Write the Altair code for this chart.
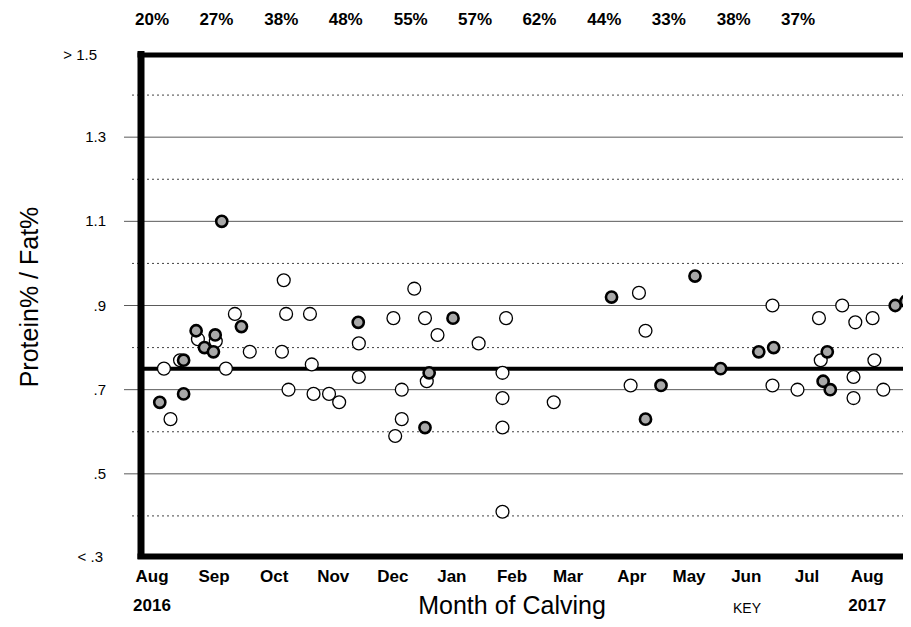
import altair as alt
import pandas as pd

# ---- data (x in months since Aug 2016, y = Protein% / Fat%) ----
open_month = [0.20, 0.31, 0.47, 0.77, 1.07, 1.24, 1.39, 1.64, 2.18, 2.21, 2.25, 2.29,
              2.65, 2.68, 2.71, 2.97, 3.14, 3.47, 3.47, 4.05, 4.08, 4.19, 4.19, 4.40,
              4.58, 4.61, 4.79, 5.48, 5.88, 5.88, 5.88, 5.88, 5.94, 6.74, 8.03, 8.17,
              8.28, 10.41, 10.41, 10.83, 11.19, 11.22, 11.58, 11.77, 11.77, 11.80,
              12.09, 12.12, 12.27]
open_ratio = [0.75, 0.63, 0.77, 0.82, 0.815, 0.75, 0.88, 0.79, 0.79, 0.96, 0.88, 0.70,
              0.88, 0.76, 0.69, 0.69, 0.67, 0.81, 0.73, 0.87, 0.59, 0.70, 0.63, 0.94,
              0.87, 0.72, 0.83, 0.81, 0.74, 0.68, 0.61, 0.41, 0.87, 0.67, 0.71, 0.93,
              0.84, 0.90, 0.71, 0.70, 0.87, 0.77, 0.90, 0.73, 0.68, 0.86,
              0.87, 0.77, 0.70]

grey_month = [0.13, 0.53, 0.53, 0.74, 0.88, 1.03, 1.06, 1.17, 1.50, 3.46, 4.58, 4.65,
              5.05, 7.71, 8.28, 8.54, 9.11, 9.54, 10.18, 10.43, 11.26, 11.33, 11.38,
              12.47, 12.65]
grey_ratio = [0.67, 0.77, 0.69, 0.84, 0.80, 0.79, 0.83, 1.10, 0.85, 0.86, 0.61, 0.74,
              0.87, 0.92, 0.63, 0.71, 0.97, 0.75, 0.79, 0.80, 0.72, 0.79, 0.70,
              0.90, 0.91]

mean_ratio = [0.75]

month_labels = ["Aug", "Sep", "Oct", "Nov", "Dec", "Jan", "Feb", "Mar", "Apr", "May",
                "Jun", "Jul", "Aug"]
month_pos = [0, 1.04, 2.05, 3.04, 4.04, 5.03, 6.04, 6.98, 8.05, 9.01, 9.97, 10.99, 12.0]

year_labels = ["2016", "2017"]
year_pos = [0, 12.0]

pct_labels = ["20%", "27%", "38%", "48%", "55%", "57%", "62%", "44%", "33%", "38%", "37%"]
pct_pos = [0, 1.08, 2.17, 3.25, 4.34, 5.42, 6.50, 7.59, 8.67, 9.76, 10.84]

major_grid = [1.3, 1.1, 0.9, 0.7, 0.5]
minor_grid = [1.4, 1.2, 1.0, 0.8, 0.6, 0.4]
y_tick_labels = ["1.3", "1.1", ".9", ".7", ".5"]

# ---- layout ----
W, H = 762, 505
FONT = "Liberation Sans"
xs = alt.Scale(domain=[-0.185, -0.185 + W / 59.6], nice=False, zero=False)
ys = alt.Scale(domain=[0.3, 1.5], nice=False, zero=False)

open_df = pd.DataFrame({"m": open_month, "r": open_ratio})
grey_df = pd.DataFrame({"m": grey_month, "r": grey_ratio})
major_df = pd.DataFrame({"v": major_grid, "lab": y_tick_labels})
minor_df = pd.DataFrame({"v": minor_grid})
mean_df = pd.DataFrame({"v": mean_ratio})
month_df = pd.DataFrame({"p": month_pos, "lab": month_labels})
year_df = pd.DataFrame({"p": year_pos, "lab": year_labels})
pct_df = pd.DataFrame({"p": pct_pos, "lab": pct_labels})
one = alt.Data(values=[{}])

major = alt.Chart(major_df).mark_rule(color="#5a5a5a", strokeWidth=1).encode(
    y=alt.Y("v:Q", scale=ys, axis=None), x=alt.value(-17), x2=alt.value(W))
minor = alt.Chart(minor_df).mark_rule(color="#444444", strokeWidth=1, strokeDash=[2, 3]).encode(
    y=alt.Y("v:Q", scale=ys, axis=None), x=alt.value(-9), x2=alt.value(W))
ylabels = alt.Chart(major_df).mark_text(font=FONT, fontSize=15, align="right", baseline="middle").encode(
    y=alt.Y("v:Q", scale=ys, axis=None), x=alt.value(-35), text="lab:N")
ytop = alt.Chart(one).mark_text(font=FONT, fontSize=15, align="right", baseline="middle",
                                text="> 1.5").encode(x=alt.value(-44), y=alt.value(2))
ybot = alt.Chart(one).mark_text(font=FONT, fontSize=15, align="right", baseline="middle",
                                text="<  .3").encode(x=alt.value(-38), y=alt.value(H - 1))
mean = alt.Chart(mean_df).mark_rule(color="black", strokeWidth=4).encode(
    y=alt.Y("v:Q", scale=ys, axis=None), x=alt.value(0), x2=alt.value(W))

pts_open = alt.Chart(open_df).mark_point(shape="circle", filled=False, fill="white", fillOpacity=1,
                                         stroke="black", strokeWidth=1.3, size=165, opacity=1).encode(
    x=alt.X("m:Q", scale=xs, axis=None), y=alt.Y("r:Q", scale=ys, axis=None))
pts_grey = alt.Chart(grey_df).mark_point(shape="circle", filled=False, fill="#a8a8a8", fillOpacity=1,
                                         stroke="black", strokeWidth=2.6, size=125, opacity=1).encode(
    x=alt.X("m:Q", scale=xs, axis=None), y=alt.Y("r:Q", scale=ys, axis=None))

left_b = alt.Chart(one).mark_rule(color="black", strokeWidth=7).encode(
    x=alt.value(0), y=alt.value(-2), y2=alt.value(H + 1))
top_b = alt.Chart(one).mark_rule(color="black", strokeWidth=5).encode(
    y=alt.value(2), x=alt.value(-3.5), x2=alt.value(W))
bot_b = alt.Chart(one).mark_rule(color="black", strokeWidth=6).encode(
    y=alt.value(H - 1.5), x=alt.value(-3.5), x2=alt.value(W))

months = alt.Chart(month_df).mark_text(font=FONT, fontSize=17, fontWeight="bold", baseline="middle").encode(
    x=alt.X("p:Q", scale=xs, axis=None), y=alt.value(H + 19), text="lab:N")
years = alt.Chart(year_df).mark_text(font=FONT, fontSize=17, fontWeight="bold", baseline="middle").encode(
    x=alt.X("p:Q", scale=xs, axis=None), y=alt.value(H + 48), text="lab:N")
pcts = alt.Chart(pct_df).mark_text(font=FONT, fontSize=17, fontWeight="bold", baseline="middle").encode(
    x=alt.X("p:Q", scale=xs, axis=None), y=alt.value(-33), text="lab:N")

xtitle = alt.Chart(one).mark_text(font=FONT, fontSize=25, baseline="alphabetic",
                                  text="Month of Calving").encode(x=alt.value(371), y=alt.value(H + 56))
ytitle = alt.Chart(one).mark_text(font=FONT, fontSize=25, baseline="middle", angle=270,
                                  text="Protein% / Fat%").encode(x=alt.value(-111), y=alt.value(244))
key = alt.Chart(one).mark_text(font=FONT, fontSize=14, baseline="alphabetic",
                               text="KEY").encode(x=alt.value(606), y=alt.value(H + 55))

chart = alt.layer(
    major, minor, mean, pts_open, pts_grey, left_b, top_b, bot_b,
    ylabels, ytop, ybot, months, years, pcts, xtitle, ytitle, key
).properties(
    width=W, height=H,
    autosize=alt.AutoSizeParams(type="none"),
    padding={"left": 133, "top": 45, "right": 0, "bottom": 61},
).configure_view(stroke=None)

chart.save("out.html", embed_options={"renderer": "svg", "actions": False})
